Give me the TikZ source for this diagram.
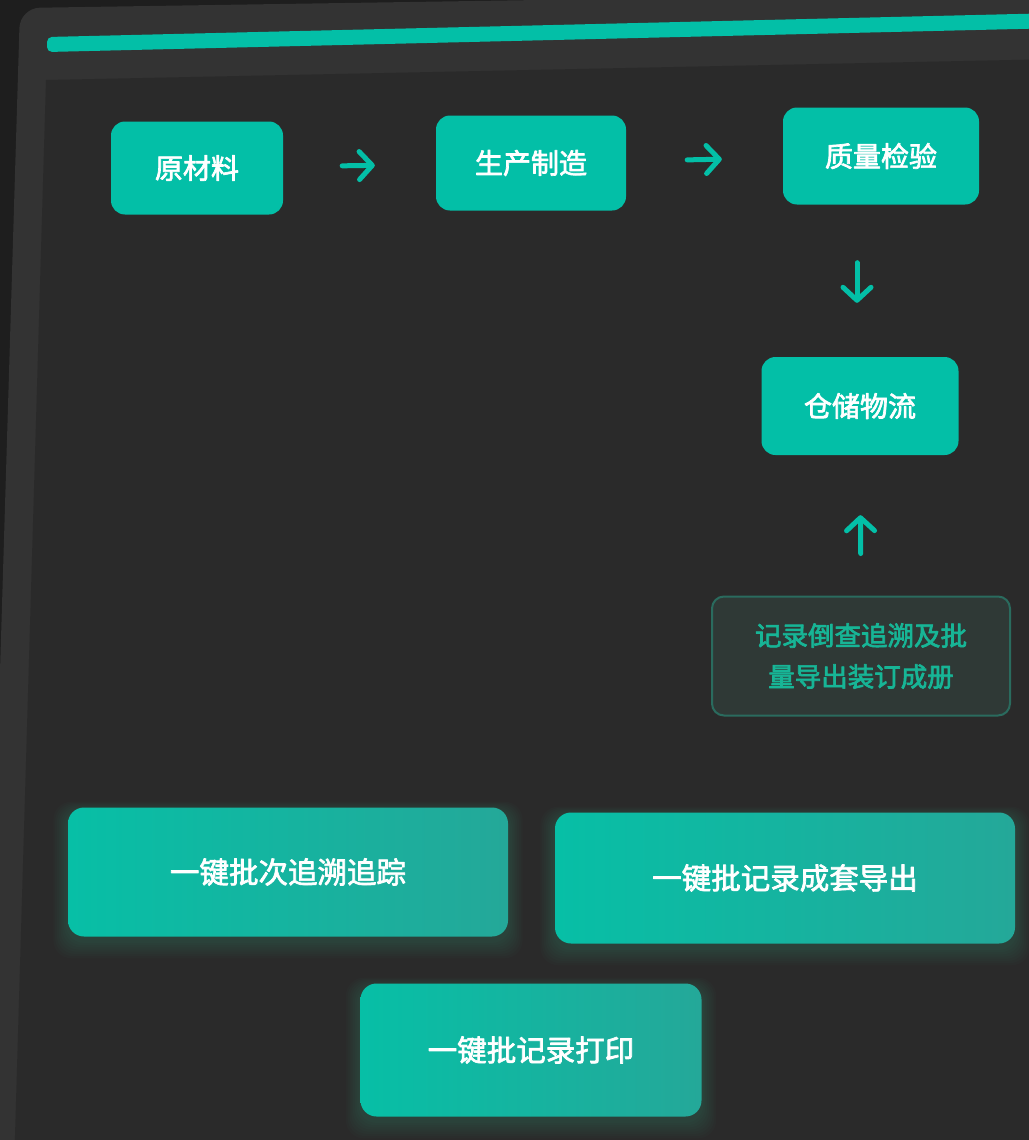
\documentclass[tikz,border=0pt]{standalone}
\usepackage{fontspec}
\newfontfamily\cjk{Noto Sans CJK SC}
\newcommand\heavytext{\special{pdf:literal direct 2 Tr 0.7 w 1 j}}
\usetikzlibrary{arrows.meta,calc}
\definecolor{outerbg}{HTML}{1E1E1E}
\definecolor{framec}{HTML}{333333}
\definecolor{panelc}{HTML}{2A2A2A}
\definecolor{tealA}{HTML}{03BFA7}
\definecolor{tealL}{HTML}{07BFA6}
\definecolor{tealR}{HTML}{24A899}
\definecolor{notefill}{HTML}{2F3936}
\definecolor{noteline}{HTML}{2A6B5E}
\definecolor{notetext}{HTML}{17B596}
\definecolor{glowc}{HTML}{2FBFA0}
\pgfdeclarelayer{bg}
\pgfdeclarelayer{glow}
\pgfsetlayers{bg,glow,main}
\tikzset{
  topbox/.style={fill=tealA, rounded corners=14pt, text=white, font=\cjk\fontsize{28}{32}\selectfont\heavytext, inner sep=0pt},
  bigbox/.style={left color=tealL, right color=tealR, rounded corners=16pt, text=white, font=\cjk\fontsize{29.5}{34}\selectfont\heavytext, inner sep=0pt},
  notebox/.style={fill=notefill, draw=noteline, line width=2pt, rounded corners=12pt, text=notetext, font=\cjk\fontsize{26.5}{41}\selectfont\heavytext, align=center, inner sep=0pt},
  flowarrow/.style={draw=tealA, line width=5pt, line cap=round, -{Straight Barb[length=13pt, width=28pt, round]}}
}
\begin{document}
\begin{tikzpicture}[x=1pt, y=-1pt]
\useasboundingbox (0,0) rectangle (1028,1140);
\begin{pgfonlayer}{bg}
  \fill[outerbg] (0,0) rectangle (1028,1140);
  \fill[framec, rounded corners=20pt] (-15,1170) -- (20,8) -- (1060,-8) -- (1060,1170) -- cycle;
  \fill[panelc] (46,80) -- (1060,59) -- (1060,1170) -- (14,1170) -- cycle;
  \fill[tealA, rounded corners=5pt] (47,52) -- (47,37) -- (1060,13) -- (1060,28) -- cycle;
\end{pgfonlayer}

\node[topbox, minimum width=172pt, minimum height=93pt] (raw) at (197,168) {原材料};
\node[topbox, minimum width=190pt, minimum height=95pt] (make) at (531,163) {生产制造};
\node[topbox, minimum width=196pt, minimum height=97pt] (qc) at (881,156) {质量检验};
\node[topbox, minimum width=197pt, minimum height=98pt] (store) at (860,406) {仓储物流};
\node[notebox, minimum width=298pt, minimum height=119pt] (note) at (861,656) {记录倒查追溯及批\\量导出装订成册};

\node[bigbox, minimum width=440pt, minimum height=129pt] (trace) at (288,872) {一键批次追溯追踪};
\node[bigbox, minimum width=460pt, minimum height=131pt] (export) at (785,878) {一键批记录成套导出};
\node[bigbox, minimum width=341pt, minimum height=133pt] (print) at (531,1050) {一键批记录打印};

\begin{pgfonlayer}{glow}
  \foreach \n in {trace,export,print}{
    \foreach \r in {2,4,...,16}{
      \fill[glowc, opacity=0.022, rounded corners=18pt]
        ($(\n.south west)+(-\r*0.9,\r*1.1+4)$) rectangle ($(\n.north east)+(\r*0.9,-\r*0.6+4)$);
    }
  }
\end{pgfonlayer}

\draw[flowarrow, shorten <=59pt, shorten >=61pt] (raw) -- (make);
\draw[flowarrow, shorten <=61pt, shorten >=61pt] (make) -- (qc);
\draw[flowarrow, shorten <=58pt, shorten >=54pt] ([xshift=-3pt]store.north |- qc.south) -- ([xshift=-3pt]store.north);
\draw[flowarrow, shorten <=42pt, shorten >=60pt] (note.north) -- (store.south);
\end{tikzpicture}
\end{document}
